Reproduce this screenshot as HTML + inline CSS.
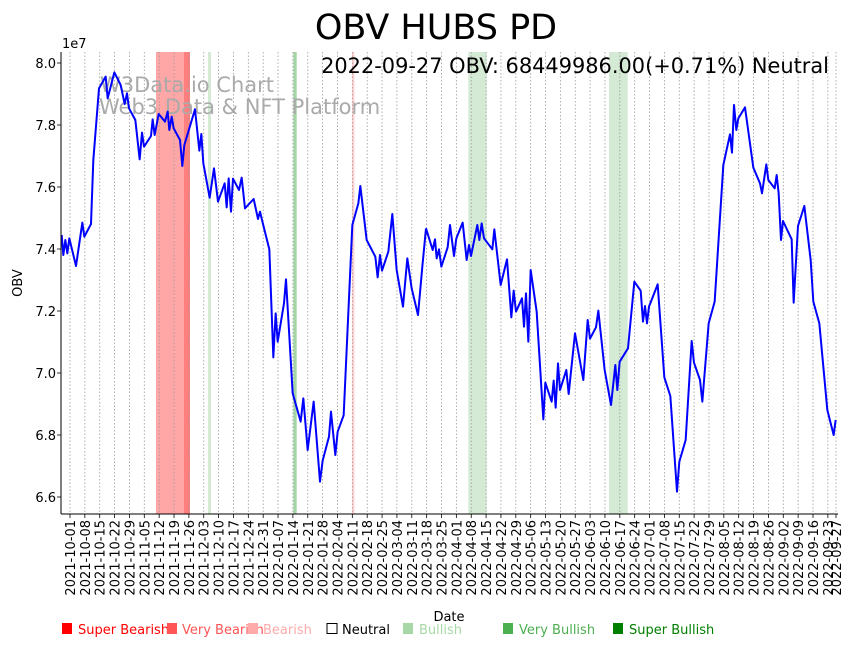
<!DOCTYPE html>
<html><head><meta charset="utf-8"><style>
html,body{margin:0;padding:0;background:#fff;}
svg{display:block;font-family:"DejaVu Sans","Liberation Sans",sans-serif;}
</style></head><body>
<svg width="855" height="646" viewBox="0 0 855 646" xmlns="http://www.w3.org/2000/svg">
<rect width="855" height="646" fill="#fff"/>
<!-- spans -->
<rect x="156" y="52" width="28" height="462" fill="#ffa6a6"/>
<rect x="184" y="52" width="6" height="462" fill="#ff7f7f"/>
<rect x="208" y="52" width="3" height="462" fill="#d4ead4"/>
<rect x="293.3" y="52" width="3.4" height="462" fill="#a5d5a5"/>
<rect x="352" y="52" width="2.4" height="462" fill="#ffd0d0"/>
<rect x="468.3" y="52" width="18.4" height="462" fill="#d4ead4"/>
<rect x="609" y="52" width="18.7" height="462" fill="#d4ead4"/>
<g id="grid" stroke="#999" stroke-width="0.8" stroke-dasharray="1.5,2"></g>
<g id="ticks" stroke="#000" stroke-width="0.8"></g>
<g id="xl" font-size="13" fill="#000"></g>
<!-- watermark -->
<text x="100" y="92" font-size="21" fill="#aaa">W3Data.io Chart</text>
<text x="99" y="114" font-size="21" fill="#aaa">Web3 Data &amp; NFT Platform</text>
<!-- line -->
<polyline transform="translate(0,40) scale(0.33333)" fill="none" stroke="#0000ff" stroke-width="2" vector-effect="non-scaling-stroke" stroke-linejoin="round" points="185,585 190,645 196,600 202,640 208,595 228,678 247,548 253,590 273,552 280,360 297,145 317,110 323,175 343,97 362,135 374,192 381,160 387,205 406,240 419,358 426,278 432,320 453,288 458,238 464,285 476,222 495,245 503,215 508,270 515,230 521,265 540,300 547,378 553,315 585,208 598,332 604,282 610,370 629,473 642,385 654,485 674,430 680,502 686,415 693,515 699,416 717,450 725,413 735,505 761,477 774,537 780,515 786,540 808,628 820,952 827,820 833,905 852,790 858,718 878,1060 902,1145 910,1075 923,1230 941,1085 960,1325 968,1262 987,1190 993,1115 1006,1245 1013,1175 1031,1126 1057,555 1075,490 1081,438 1100,600 1126,650 1133,712 1140,645 1146,692 1165,635 1177,522 1190,690 1209,800 1222,655 1235,745 1254,825 1267,680 1278,565"/>
<polyline transform="translate(420,40) scale(0.33333)" fill="none" stroke="#0000ff" stroke-width="2" vector-effect="non-scaling-stroke" stroke-linejoin="round" points="18,565 38,630 45,598 50,655 57,628 64,680 83,622 90,555 102,648 109,595 128,548 140,660 147,615 153,648 172,555 178,600 185,550 192,595 217,628 223,568 242,735 261,658 274,832 281,752 288,815 306,775 312,860 318,760 325,905 332,690 350,815 370,1138 376,1028 395,1085 401,1022 407,1103 414,970 420,1050 439,990 446,1062 465,880 490,1020 503,840 510,896 528,862 535,812 554,990 573,1095 586,975 592,1050 599,965 624,925 643,725 662,752 669,845 675,798 681,850 687,800 713,733 733,1012 751,1068 771,1355 778,1265 797,1200 815,903 822,968 840,1020 847,1085 866,850 884,785 910,375 930,283 936,338 942,195 949,270 955,235 975,202 1000,383 1020,430 1026,460 1039,373 1045,420 1064,445 1070,405 1076,460 1083,600 1089,543 1115,598 1121,788 1134,558 1153,498 1172,660 1180,785 1198,850 1222,1110 1241,1185 1247,1140"/>
<!-- axes -->
<line x1="61" y1="52" x2="61" y2="514" stroke="#000" stroke-width="1"/>
<line x1="61" y1="514" x2="838" y2="514" stroke="#000" stroke-width="1"/>
<g font-size="13" text-anchor="end" fill="#000">
<text x="56" y="68">8.0</text><text x="56" y="130">7.8</text><text x="56" y="192">7.6</text><text x="56" y="254">7.4</text><text x="56" y="316">7.2</text><text x="56" y="378">7.0</text><text x="56" y="440">6.8</text><text x="56" y="502">6.6</text>
</g>
<g stroke="#000" stroke-width="0.8">
<line x1="57" y1="63" x2="61" y2="63"/><line x1="57" y1="125" x2="61" y2="125"/><line x1="57" y1="187" x2="61" y2="187"/><line x1="57" y1="249" x2="61" y2="249"/><line x1="57" y1="311" x2="61" y2="311"/><line x1="57" y1="373" x2="61" y2="373"/><line x1="57" y1="435" x2="61" y2="435"/><line x1="57" y1="497" x2="61" y2="497"/>
</g>
<text x="62" y="48" font-size="13">1e7</text>
<text x="22" y="283" font-size="13" transform="rotate(-90 22 283)" text-anchor="middle">OBV</text>
<text x="436" y="39" font-size="35" text-anchor="middle">OBV HUBS PD</text>
<text x="829" y="73" font-size="20.9" text-anchor="end">2022-09-27 OBV: 68449986.00(+0.71%) Neutral</text>
<text x="449" y="621" font-size="13" text-anchor="middle">Date</text>
<g font-size="13">
<rect x="62" y="623" width="10" height="11" fill="#ff0000"/><text x="78" y="634" fill="#ff0000">Super Bearish</text>
<rect x="167" y="623" width="10" height="11" fill="#ff5555"/><text x="182" y="634" fill="#ff5555">Very Bearish</text>
<rect x="248" y="623" width="10" height="11" fill="#ffaaaa"/><text x="263" y="634" fill="#ffaaaa">Bearish</text>
<rect x="327" y="623.5" width="10" height="10" fill="none" stroke="#000"/><text x="342" y="634" fill="#000">Neutral</text>
<rect x="403" y="623" width="10" height="11" fill="#a8d8a8"/><text x="419" y="634" fill="#a8d8a8">Bullish</text>
<rect x="503" y="623" width="10" height="11" fill="#4caf50"/><text x="519" y="634" fill="#4caf50">Very Bullish</text>
<rect x="613" y="623" width="10" height="11" fill="#008000"/><text x="629" y="634" fill="#008000">Super Bullish</text>
</g>
<script>
(function(){
var ns="http://www.w3.org/2000/svg";
var labels=[];
var d=new Date(Date.UTC(2021,9,1));
for(var k=0;k<52;k++){var t=new Date(d.getTime()+k*7*86400000);labels.push([70+k*14.86,t.toISOString().slice(0,10)]);}
labels.push([836,"2022-09-27"]);
var g=document.getElementById("grid"),tk=document.getElementById("ticks"),xl=document.getElementById("xl");
labels.forEach(function(l){
var x=l[0];
var ln=document.createElementNS(ns,"line");ln.setAttribute("x1",x);ln.setAttribute("x2",x);ln.setAttribute("y1",52);ln.setAttribute("y2",514);g.appendChild(ln);
var t2=document.createElementNS(ns,"line");t2.setAttribute("x1",x);t2.setAttribute("x2",x);t2.setAttribute("y1",514);t2.setAttribute("y2",518);tk.appendChild(t2);
var tx=document.createElementNS(ns,"text");tx.setAttribute("x",x+5);tx.setAttribute("y",520);tx.setAttribute("text-anchor","end");tx.setAttribute("transform","rotate(-90 "+(x+5)+" 520)");tx.textContent=l[1];xl.appendChild(tx);
});
})();
</script>
</svg>
</body></html>
